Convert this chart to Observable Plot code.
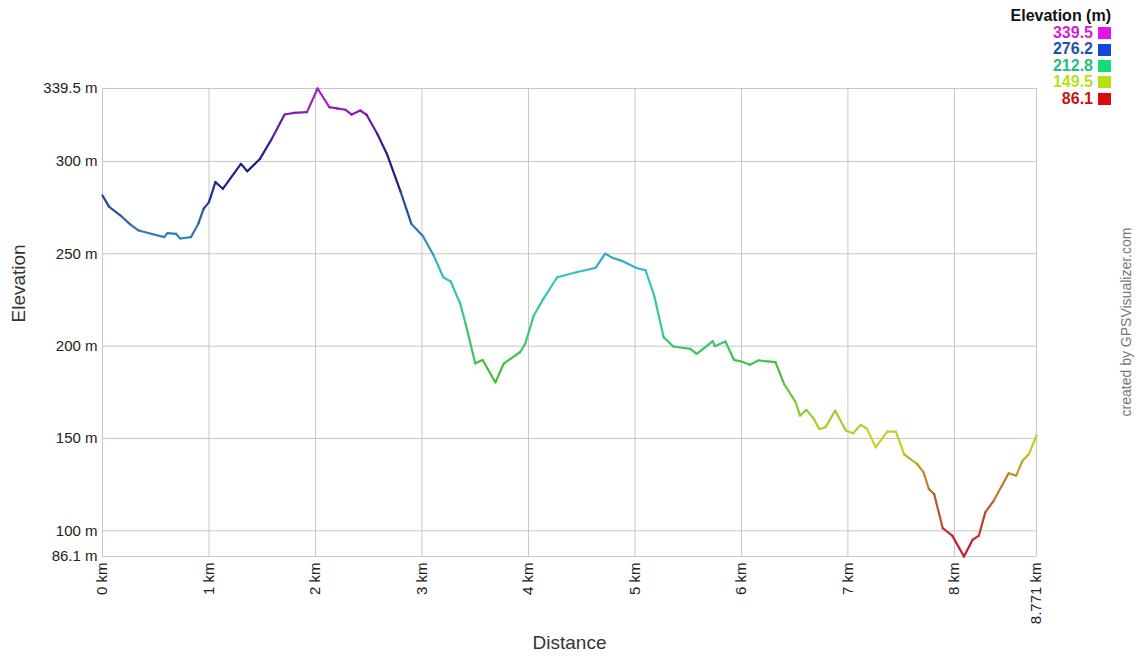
<!DOCTYPE html>
<html>
<head>
<meta charset="utf-8">
<script src="https://cdn.jsdelivr.net/npm/d3@7"></script>
<script src="https://cdn.jsdelivr.net/npm/@observablehq/plot@0.6"></script>
<style>
  html, body { margin: 0; padding: 0; background: #fff; }
  #wrap { position: relative; width: 1137px; height: 656px; font-family: "Liberation Sans", Arial, sans-serif; }
  #legend { position: absolute; right: 26px; top: 7px; text-align: right; font-weight: bold; font-size: 16px; }
  #legend .title { color: #111; margin-bottom: 0px; line-height: 18px; }
  #legend .row { line-height: 16.4px; height: 16.4px; display: flex; justify-content: flex-end; align-items: center; }
  #legend .sw { display: inline-block; width: 13px; height: 12px; margin-left: 5px; }
  #credit { position: absolute; left: 1126px; top: 322px; transform: translate(-50%, -50%) rotate(-90deg); white-space: nowrap; color: #777; font-size: 14px; }
</style>
</head>
<body>
<div id="wrap">
  <div id="chart"></div>
  <div id="legend"></div>
  <div id="credit">created by GPSVisualizer.com</div>
</div>
<script>
// distance along track (km)
const distanceKm = [0, 0.06, 0.17, 0.26, 0.34, 0.58, 0.61, 0.69, 0.73, 0.83, 0.90, 0.95, 1.00, 1.06, 1.13, 1.30, 1.36, 1.48, 1.59, 1.71, 1.80, 1.92, 2.02, 2.13, 2.20, 2.28, 2.34, 2.42, 2.48, 2.58, 2.67, 2.80, 2.90, 3.01, 3.11, 3.20, 3.27, 3.36, 3.41, 3.50, 3.57, 3.69, 3.77, 3.83, 3.92, 3.97, 4.05, 4.14, 4.27, 4.45, 4.63, 4.72, 4.79, 4.88, 5.01, 5.10, 5.18, 5.27, 5.36, 5.52, 5.58, 5.65, 5.73, 5.75, 5.85, 5.93, 6.00, 6.08, 6.16, 6.25, 6.32, 6.40, 6.51, 6.55, 6.61, 6.68, 6.73, 6.79, 6.88, 6.98, 7.05, 7.12, 7.18, 7.26, 7.37, 7.45, 7.53, 7.65, 7.71, 7.76, 7.81, 7.89, 7.98, 8.09, 8.17, 8.23, 8.29, 8.37, 8.51, 8.58, 8.64, 8.70, 8.771];
// elevation (m)
const elevationM = [281.6, 275.6, 270.7, 265.9, 262.6, 259, 261.2, 260.8, 258.3, 259, 266.3, 274.4, 278, 288.8, 285.2, 298.7, 294.7, 301.5, 312.3, 325.4, 326.3, 326.7, 339.5, 329.4, 328.7, 328, 325.4, 327.6, 325.3, 315, 304.2, 283.5, 266.3, 259.5, 249.1, 237.3, 235, 222.9, 212.1, 190.7, 192.5, 180.4, 190.7, 193.1, 196.7, 201.3, 216.6, 225.6, 237.3, 240, 242.4, 250.1, 247.8, 246.1, 242.4, 241.1, 227.5, 204.8, 199.8, 198.5, 195.8, 198.9, 202.7, 200, 202.5, 192.6, 191.7, 189.9, 192.3, 191.7, 191.3, 179.6, 169.6, 162.4, 165.5, 160.6, 155.2, 156.1, 165.1, 154.3, 152.8, 157.4, 155.2, 145.2, 153.7, 153.7, 141.3, 136.2, 131.7, 122.7, 119.9, 101.5, 97.4, 86.1, 95.1, 97.4, 110, 116.4, 131.2, 129.9, 138, 141.6, 151.6];

const xTickValues = [0, 1, 2, 3, 4, 5, 6, 7, 8, 8.771];
const yTickValues = [86.1, 100, 150, 200, 250, 300, 339.5];

// legend
const legendValues = ["339.5", "276.2", "212.8", "149.5", "86.1"];
const legendTextColors = ["#d21ed2", "#1f4fb0", "#1fc07e", "#bcdc1e", "#c81414"];
const legendSwatchColors = ["#e414e4", "#1446dc", "#14dc78", "#b4e014", "#dc0a0a"];

// line colour ramp (elevation stops -> colour)
const rampStops = [86.1, 118, 149.5, 185, 215, 240, 262, 285, 300, 320, 339.5];
const rampColors = ["#c8102e", "#b8642a", "#c8d428", "#44c038", "#38c890", "#38c0c8", "#3078b8", "#1c2a8c", "#18187e", "#6a1aa8", "#c020d0"];

const ramp = d3.scaleLinear().domain(rampStops).range(rampColors).interpolate(d3.interpolateRgb).clamp(true);

const segments = d3.range(distanceKm.length - 1).map(i => ({
  x1: distanceKm[i], y1: elevationM[i],
  x2: distanceKm[i + 1], y2: elevationM[i + 1],
  c: ramp((elevationM[i] + elevationM[i + 1]) / 2)
}));

const chart = Plot.plot({
  width: 1137,
  height: 656,
  marginLeft: 102,
  marginRight: 101,
  marginTop: 88,
  marginBottom: 100,
  style: { fontFamily: "'Liberation Sans', Arial, sans-serif", fontSize: "15px", color: "#222", background: "white", overflow: "visible" },
  x: { domain: [0, 8.771], ticks: xTickValues, tickFormat: d => d + " km", tickRotate: -90, tickSize: 0, tickPadding: 6, label: null },
  y: { domain: [86.1, 339.5], ticks: yTickValues, tickFormat: d => d + " m", tickSize: 0, tickPadding: 5, label: null },
  color: { type: "identity" },
  marks: [
    Plot.ruleX(xTickValues, { stroke: "#c6c6c6", strokeWidth: 1 }),
    Plot.ruleY(yTickValues, { stroke: "#c6c6c6", strokeWidth: 1 }),
    Plot.link(segments, { x1: "x1", y1: "y1", x2: "x2", y2: "y2", stroke: "c", strokeWidth: 2.2, strokeLinecap: "round" }),
    Plot.text(["Distance"], { frameAnchor: "bottom", dy: 92, fontSize: 19, fill: "#333" }),
    Plot.text(["Elevation"], { frameAnchor: "left", dx: -84, rotate: -90, fontSize: 19, fill: "#333" })
  ]
});
document.getElementById("chart").appendChild(chart);

const leg = document.getElementById("legend");
const t = document.createElement("div");
t.className = "title";
t.textContent = "Elevation (m)";
leg.appendChild(t);
legendValues.forEach((v, i) => {
  const r = document.createElement("div");
  r.className = "row";
  const s = document.createElement("span");
  s.textContent = v;
  s.style.color = legendTextColors[i];
  const sw = document.createElement("span");
  sw.className = "sw";
  sw.style.background = legendSwatchColors[i];
  r.appendChild(s);
  r.appendChild(sw);
  leg.appendChild(r);
});
</script>
</body>
</html>
